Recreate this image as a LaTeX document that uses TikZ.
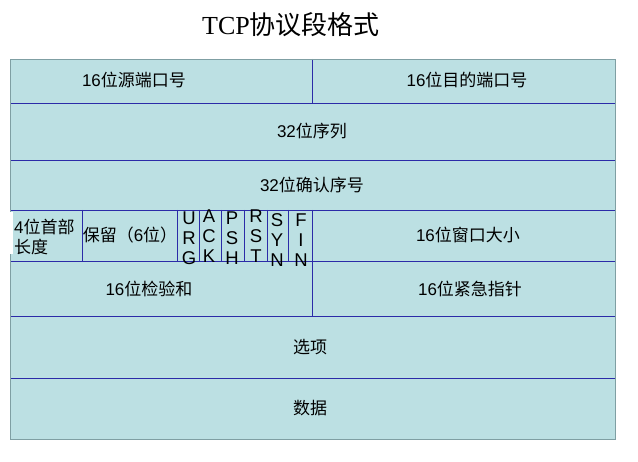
\documentclass[tikz,border=0pt]{standalone}
\usepackage{fontspec}
\setmainfont{Liberation Sans}
\newfontfamily\cjk{Noto Sans CJK SC}
\newfontfamily\titlelat{Liberation Serif}
\definecolor{cellfill}{HTML}{BCE0E3}
\definecolor{rulecol}{HTML}{2B2BA8}
\definecolor{framecol}{HTML}{7F9FA3}
\newcommand\cj[1]{{\cjk #1}}
\begin{document}
\begin{tikzpicture}[x=1pt,y=-1pt,
  txt/.style={font=\fontsize{17}{20}\selectfont, inner sep=0pt, text=black},
  flag/.style={font=\fontsize{18.5}{20}\selectfont, inner sep=0pt, text=black},
  rl/.style={draw=rulecol, line width=0.9pt},
  titletxt/.style={font=\fontsize{26}{30}\selectfont, inner sep=0pt}]
\useasboundingbox (0,0) rectangle (638,462);
% background cells
\fill[cellfill] (10,59) rectangle (615,439);
% horizontal rules
\foreach \yy in {103,160,210,261,316,378}
  \draw[rl] (10,\yy) -- (615,\yy);
% vertical rules
\draw[rl] (312,59) -- (312,103);
\draw[rl] (312,261) -- (312,316);
\foreach \xx in {82,177,199,221,244,267,288,312}
  \draw[rl] (\xx,210) -- (\xx,261);
% outer frame
\draw[framecol, line width=0.9pt] (10,59) rectangle (615,439);
\fill[white] (8.5,212) rectangle (12.5,254);
% title
\node[titletxt] (title) at (291,25) {{\titlelat TCP}\cj{协议段格式}};
% row texts
\node[txt] (src) at (134,80) {16\cj{位源端口号}};
\node[txt] (dst) at (467,80) {16\cj{位目的端口号}};
\node[txt] (seq) at (312,131) {32\cj{位序列}};
\node[txt] (ack) at (312,185) {32\cj{位确认序号}};
\node[txt, anchor=west] (hl1) at (14,227) {4\cj{位首部}};
\node[txt, anchor=west] (hl2) at (14,247) {\cj{长度}};
\node[txt] (rsv) at (130,235) {\cj{保留（}6\cj{位）}};
\node[txt] (win) at (468,235) {16\cj{位窗口大小}};
\node[txt] (chk) at (149,289) {16\cj{位检验和}};
\node[txt] (urp) at (470,289) {16\cj{位紧急指针}};
\node[txt] (opt) at (310,347) {\cj{选项}};
\node[txt] (dat) at (310,408) {\cj{数据}};
% flags
\node[flag] (u1) at (189,218) {U};
\node[flag] (u2) at (189,238) {R};
\node[flag] (u3) at (189,258) {G};
\node[flag] (a1) at (209,216) {A};
\node[flag] (a2) at (209,236) {C};
\node[flag] (a3) at (209,256) {K};
\node[flag] (p1) at (232,218) {P};
\node[flag] (p2) at (232,238) {S};
\node[flag] (p3) at (232,258) {H};
\node[flag] (r1) at (256,216) {R};
\node[flag] (r2) at (256,236) {S};
\node[flag] (r3) at (256,256) {T};
\node[flag] (s1) at (277,220) {S};
\node[flag] (s2) at (277,240) {Y};
\node[flag] (s3) at (277,260) {N};
\node[flag] (f1) at (301,220) {F};
\node[flag] (f2) at (301,240) {I};
\node[flag] (f3) at (301,260) {N};
\end{tikzpicture}
\end{document}
